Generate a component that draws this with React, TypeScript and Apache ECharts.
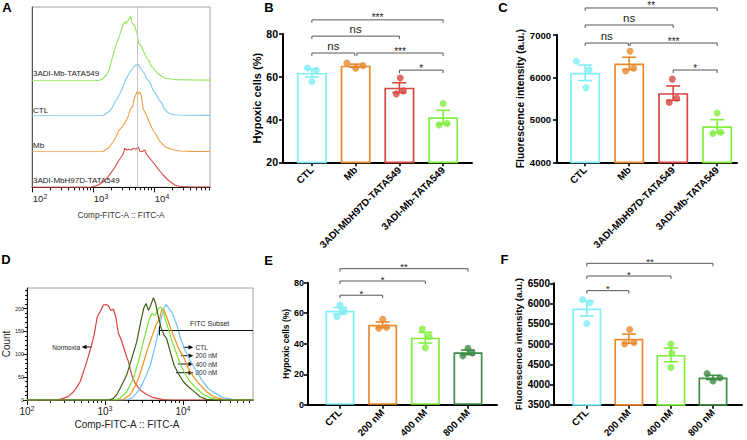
import React, { useEffect, useRef } from "react";
import * as echarts from "echarts";

const FONT = '"Liberation Sans", Arial, Helvetica, sans-serif';

// ---------------- Panel A: offset histograms (x = log10 Comp-FITC-A, y = relative height) -------------
const aGreenTATA: number[][] = [[2,0],[3.05,0],[3.11,0.5],[3.16,2],[3.22,5.7],[3.26,10],[3.3,19],[3.33,26],[3.36,32.4],[3.39,38],[3.43,44],[3.46,50],[3.49,55.7],[3.52,59],[3.54,56.7],[3.555,59],[3.58,60.7],[3.6,62],[3.62,64.7],[3.635,59],[3.65,57],[3.68,55.7],[3.72,47.4],[3.75,37.4],[3.78,35],[3.8,34],[3.83,29],[3.86,25],[3.91,20.7],[3.95,15],[3.99,12.4],[4.07,6.7],[4.18,2.4],[4.3,1.5],[4.39,1],[4.6,0.8],[4.92,0.6]];
const aBlueCTL: number[][] = [[2,0],[3.16,0],[3.22,2.4],[3.26,4],[3.31,7.4],[3.36,14],[3.39,16],[3.47,25.7],[3.52,34],[3.57,40],[3.61,44],[3.65,47.4],[3.69,50],[3.74,51.7],[3.77,48],[3.8,45.7],[3.85,41.7],[3.875,37],[3.93,34],[3.98,26],[4.04,20.7],[4.08,16],[4.13,12.4],[4.16,8],[4.21,4],[4.26,2],[4.34,1],[4.4,0.7],[4.6,0.4],[4.92,0.3]];
const aOrangeMb: number[][] = [[2,0],[3.15,0],[3.2,1.7],[3.26,4],[3.33,10],[3.38,15],[3.41,20],[3.48,25],[3.5,26.7],[3.55,31.7],[3.58,36],[3.61,41.7],[3.63,44.4],[3.655,45],[3.67,52],[3.7,56.7],[3.72,60],[3.75,58],[3.765,60],[3.79,56.7],[3.81,48.4],[3.825,42],[3.85,40],[3.875,36.7],[3.93,28.4],[3.98,22],[4.02,18.4],[4.1,10],[4.18,5],[4.26,3],[4.34,1.7],[4.42,0.7],[4.6,0.3],[4.92,0.2]];
const aRedH97D: number[][] = [[2,0],[2.95,0],[2.98,0.3],[3.08,2],[3.17,5.6],[3.24,10],[3.31,15.6],[3.36,20],[3.41,25.6],[3.46,30],[3.5,34],[3.52,39],[3.555,37.3],[3.58,38],[3.63,37.3],[3.66,39],[3.7,38],[3.74,40.6],[3.77,36],[3.8,35.6],[3.85,37.3],[3.875,33],[3.91,30.6],[3.955,27.3],[4.02,22.3],[4.06,19],[4.15,12.3],[4.23,7.3],[4.34,2.3],[4.41,1],[4.48,0.7],[4.6,0.3],[4.92,0.3]];
const aLabels = ["3ADI-Mb-TATA549", "CTL", "Mb", "3ADI-MbH97D-TATA549"];
const aMarkerLog = 3.733;
const fitcDecades = [2, 3, 4];

// ---------------- Panel D: overlaid histograms (x = log10 Comp-FITC-A, y = Count) -------------
const dNormoxia: number[][] = [[2,0],[2.295,0],[2.4,1],[2.466,3.6],[2.53,8],[2.594,18],[2.64,28],[2.68,40],[2.72,60],[2.765,84],[2.816,113],[2.859,142],[2.9,182],[2.936,193],[2.979,207.5],[3.013,209],[3.043,206],[3.073,196],[3.107,198.6],[3.137,182],[3.171,146],[3.214,129],[3.256,105],[3.299,84],[3.342,55],[3.385,37],[3.449,22],[3.534,12],[3.62,5],[3.748,1],[3.85,0],[4.9,0]];
const dCTL: number[][] = [[2,0],[3.28,0],[3.363,7],[3.45,25],[3.51,47],[3.58,76],[3.64,116],[3.684,149],[3.726,182],[3.756,200],[3.78,209],[3.81,202],[3.84,196],[3.876,185],[3.92,164],[3.97,134],[4.025,109],[4.09,87],[4.15,69],[4.24,44],[4.324,25],[4.41,15],[4.517,5],[4.645,1],[4.75,0],[4.9,0]];
const d200nM: number[][] = [[2,0],[3.22,0],[3.32,11],[3.406,37],[3.47,69],[3.534,105],[3.6,138],[3.654,164],[3.7,178],[3.726,198],[3.756,196],[3.79,182],[3.842,156],[3.9,131],[3.953,109],[4.004,95],[4.068,69],[4.132,51],[4.218,33],[4.303,18],[4.389,7],[4.517,1.5],[4.6,0],[4.9,0]];
const d400nM: number[][] = [[2,0],[3.13,0],[3.192,3.6],[3.278,18],[3.363,47],[3.427,84],[3.49,127],[3.556,171],[3.6,189],[3.64,185],[3.67,196],[3.705,203],[3.74,200],[3.77,178],[3.81,156],[3.855,131],[3.91,105],[3.96,80],[4.025,58],[4.09,40],[4.175,25],[4.26,12],[4.367,3.6],[4.47,0],[4.9,0]];
const d800nM: number[][] = [[2,0],[3.05,0],[3.107,3.6],[3.15,12],[3.192,25],[3.235,40],[3.278,55],[3.342,91],[3.406,127],[3.457,171],[3.5,203],[3.526,211],[3.556,196],[3.585,207],[3.62,224],[3.649,211],[3.684,182],[3.714,160],[3.756,142],[3.79,134],[3.842,102],[3.885,76],[3.94,58],[4.004,40],[4.068,29],[4.132,20],[4.218,7],[4.303,1.5],[4.4,0],[4.9,0]];
const dCountTicks = [0, 50, 100, 150, 200];
const dGateLog = 3.696;
const dGateCount = 151.6;

// ---------------- Panel B -------------
const bCats = ["CTL", "Mb", "3ADI-MbH97D-TATA549", "3ADI-Mb-TATA549"];
const bMeans = [61.8, 65.2, 54.9, 41.1];
const bSems = [1.9, 0.7, 2.3, 3.2];
const bPoints = [[64.1, 63.0, 57.8], [66.4, 64.0, 65.2], [59.4, 52.0, 53.4], [47.5, 37.5, 38.2]];
const bJitter = [[-0.1, 0.1, 0], [-0.2, 0, 0.17], [0.02, -0.07, 0.09], [0, -0.09, 0.09]];
const bSig = [[0, 3, 86.6], [0, 2, 79], [0, 0.98, 71.1], [1.03, 3, 71.1], [2, 3, 63.1]];
const bSigLabels = ["***", "ns", "ns", "***", "*"];

// ---------------- Panel C -------------
const cCats = ["CTL", "Mb", "3ADI-MbH97D-TATA549", "3ADI-Mb-TATA549"];
const cMeans = [6110, 6330, 5630, 4850];
const cSems = [183, 146, 169, 155];
const cPoints = [[6380, 6180, 5760], [6620, 6150, 6220], [5960, 5410, 5510], [5160, 4680, 4710]];
const cJitter = [[-0.2, 0.09, 0.02], [0.02, -0.08, 0.1], [-0.02, -0.09, 0.08], [0, -0.1, 0.08]];
const cSig = [[0, 3, 7637], [0, 2, 7236], [0, 0.98, 6811], [1.02, 3, 6811], [2, 3, 6175]];
const cSigLabels = ["**", "ns", "ns", "***", "*"];

// ---------------- Panel E -------------
const eCats = ["CTL", "200 nM", "400 nM", "800 nM"];
const eMeans = [61.6, 52.4, 44.0, 34.4];
const eSems = [2.2, 1.9, 3.5, 1.5];
const ePoints = [[65.4, 61.7, 57.8], [56.1, 50.2, 50.8], [49.7, 44.7, 37.5], [37.1, 32.1, 33.9]];
const eJitter = [[0, 0.09, -0.07], [0, -0.09, 0.09], [-0.07, 0.09, 0], [0, -0.12, 0.1]];
const eSig = [[0, 3, 89.2], [0, 2, 81.1], [0, 1, 71.8]];
const eSigLabels = ["**", "*", "*"];

// ---------------- Panel F -------------
const fCats = ["CTL", "200 nM", "400 nM", "800 nM"];
const fMeans = [5877, 5133, 4733, 4177];
const fSems = [185, 114, 169, 52];
const fPoints = [[6100, 6020, 5510], [5360, 5000, 5040], [5000, 4780, 4420], [4270, 4090, 4170]];
const fJitter = [[-0.1, 0.07, 0], [0.02, -0.1, 0.12], [0, 0.02, 0], [-0.14, 0, 0.17]];
const fSig = [[0, 3, 6993], [0, 2, 6680], [0, 1, 6318]];
const fSigLabels = ["**", "*", "*"];

const CYAN = "#80EEF6";
const ORANGE = "#E8892C";
const RED = "#D9473F";
const LIME = "#7FEE3C";
const DKGREEN = "#3E8C46";

function buildOption() {
  const grids: any[] = [];
  const xAxes: any[] = [];
  const yAxes: any[] = [];
  const series: any[] = [];
  const graphics: any[] = [];
  const addGrid = (g: any) => { grids.push(g); return grids.length - 1; };
  const addX = (a: any) => { xAxes.push(a); return xAxes.length - 1; };
  const addY = (a: any) => { yAxes.push(a); return yAxes.length - 1; };

  const powRich = (size: number) => ({
    b: { fontSize: size, fontFamily: FONT, color: "#222", lineHeight: size + 1, verticalAlign: "bottom" },
    s: { fontSize: size * 0.72, fontFamily: FONT, color: "#222", lineHeight: size * 0.72 + 1, verticalAlign: "top" },
  });
  const powFmt = (v: number) => {
    const e = Math.round(v);
    return Math.abs(v - e) < 1e-6 ? `{b|10}{s|${e}}` : "";
  };
  const minorLog = (max: number) => {
    const out: number[] = [];
    for (const d of fitcDecades) for (let k = 2; k <= 9; k++) { const v = d + Math.log10(k); if (v <= max) out.push(v); }
    return out;
  };
  const hidden = { show: false };

  // ---------- Panel A ----------
  const aMin = 2, aMax = 4.918;
  const aFrame = addGrid({ left: 32, top: 7, width: 178, height: 180.3, show: true, borderColor: "#a0a0a0", borderWidth: 1 });
  const axF = addX({ type: "value", gridIndex: aFrame, min: aMin, max: aMax, ...hidden });
  const ayF = addY({ type: "value", gridIndex: aFrame, min: 0, max: 1, position: "left",
    axisLine: { show: true, onZero: false, lineStyle: { color: "#555", width: 1 } }, axisTick: { show: false }, axisLabel: { show: false }, splitLine: { show: false } });
  series.push({ type: "line", xAxisIndex: axF, yAxisIndex: ayF, data: [], silent: true,
    markLine: { silent: true, symbol: ["none", "none"], label: { show: false }, lineStyle: { color: "#c4c4c4", width: 1, type: "solid" }, data: [{ xAxis: aMarkerLog }] } });

  const aSeries = [aGreenTATA, aBlueCTL, aOrangeMb, aRedH97D];
  const aColors = ["#8FE85A", "#7DC9F3", "#EFA046", "#D94A46"];
  const aBaselines = [80.7, 115.7, 151.7, 187.3];
  aSeries.forEach((s, i) => {
    const gi = addGrid({ left: 32, top: aBaselines[i] - 75, width: 178, height: 75 });
    const last = i === aSeries.length - 1;
    const xi = addX(last ? {
      type: "value", gridIndex: gi, min: aMin, max: aMax, position: "bottom",
      axisLine: { show: true, onZero: false, lineStyle: { color: "#111", width: 1 } },
      axisTick: { show: true, customValues: fitcDecades, length: 5, lineStyle: { color: "#111", width: 1 } },
      axisLabel: { show: true, customValues: fitcDecades, formatter: powFmt, rich: powRich(9.5), margin: 6, padding: [0, 0, 0, 16] },
      splitLine: { show: false },
    } : { type: "value", gridIndex: gi, min: aMin, max: aMax, ...hidden });
    if (last) {
      addX({ type: "value", gridIndex: gi, min: aMin, max: aMax, position: "bottom",
        axisLine: { show: false, onZero: false }, axisTick: { show: true, customValues: minorLog(aMax), length: 3, lineStyle: { color: "#111", width: 1 } },
        axisLabel: { show: false }, splitLine: { show: false } });
    }
    const yi = addY({ type: "value", gridIndex: gi, min: 0, max: 75, ...hidden });
    series.push({ type: "line", xAxisIndex: xi, yAxisIndex: yi, data: s, showSymbol: false, symbol: "none",
      lineStyle: { color: aColors[i], width: 1.1 }, silent: true, z: 3 });
  });
  const aLabelY = [73.5, 110, 145.5, 180];
  aLabels.forEach((t, i) => graphics.push({ type: "text", x: 33, y: aLabelY[i],
    style: { text: t, fontSize: 8, fontFamily: FONT, fill: "#222", align: "left", textAlign: "left", verticalAlign: "middle", textVerticalAlign: "middle" } }));
  graphics.push({ type: "text", x: 121, y: 214.5, style: { text: "Comp-FITC-A :: FITC-A", fontSize: 8.3, fontFamily: FONT, fill: "#333", align: "center", textAlign: "center", verticalAlign: "middle", textVerticalAlign: "middle" } });

  // ---------- Panel D ----------
  const dMin = 2, dMax = 4.897;
  const dG = addGrid({ left: 27, top: 288, width: 226, height: 112, show: true, borderColor: "#a0a0a0", borderWidth: 1 });
  const dx = addX({ type: "value", gridIndex: dG, min: dMin, max: dMax, position: "bottom",
    axisLine: { show: true, onZero: false, lineStyle: { color: "#111", width: 1 } },
    axisTick: { show: true, customValues: fitcDecades, length: 5, lineStyle: { color: "#111" } },
    axisLabel: { show: true, customValues: fitcDecades, formatter: powFmt, rich: powRich(10), margin: 5 },
    splitLine: { show: false } });
  addX({ type: "value", gridIndex: dG, min: dMin, max: dMax, position: "bottom",
    axisLine: { show: false, onZero: false }, axisTick: { show: true, customValues: minorLog(dMax), length: 3, lineStyle: { color: "#111" } },
    axisLabel: { show: false }, splitLine: { show: false } });
  const dy = addY({ type: "value", gridIndex: dG, min: 0, max: 245, position: "left",
    axisLine: { show: true, onZero: false, lineStyle: { color: "#111", width: 1 } },
    axisTick: { show: true, customValues: dCountTicks, length: 4, lineStyle: { color: "#111" } },
    axisLabel: { show: true, customValues: dCountTicks, fontSize: 5.5, fontFamily: FONT, color: "#222", margin: 3 },
    splitLine: { show: false }, name: "Count", nameLocation: "middle", nameGap: 13,
    nameTextStyle: { fontSize: 10, fontFamily: FONT, color: "#222" } });
  addY({ type: "value", gridIndex: dG, min: 0, max: 245, position: "left",
    axisLine: { show: false, onZero: false },
    axisTick: { show: true, customValues: [10,20,30,40,60,70,80,90,110,120,130,140,160,170,180,190,210,220,230,240], length: 2, lineStyle: { color: "#111" } },
    axisLabel: { show: false }, splitLine: { show: false } });
  const dSeries = [dNormoxia, dCTL, d200nM, d400nM, d800nM];
  const dColors = ["#D9443C", "#6FC3F5", "#F0901F", "#78E23A", "#3D5F14"];
  dSeries.forEach((s, i) => series.push({ type: "line", xAxisIndex: dx, yAxisIndex: dy, data: s, showSymbol: false, symbol: "none",
    lineStyle: { color: dColors[i], width: 1.2 }, silent: true, z: 3 + i,
    markLine: i === 0 ? { silent: true, symbol: ["none", "none"], label: { show: false }, lineStyle: { color: "#111", width: 1, type: "solid" },
      data: [[{ coord: [dGateLog, dGateCount] }, { coord: [dMax, dGateCount] }], [{ coord: [dGateLog, dGateCount - 10] }, { coord: [dGateLog, dGateCount + 10] }]] } : undefined }));
  graphics.push({ type: "text", x: 127, y: 424, style: { text: "Comp-FITC-A :: FITC-A", fontSize: 10, fontFamily: FONT, fill: "#222", align: "center", textAlign: "center", verticalAlign: "middle", textVerticalAlign: "middle" } });
  graphics.push({ type: "text", x: 190, y: 323.3, style: { text: "FITC Subset", fontSize: 7, fontFamily: FONT, fill: "#222", align: "left", textAlign: "left", verticalAlign: "middle", textVerticalAlign: "middle" } });
  const arrow = (x1: number, x2: number, y: number) => {
    const dir = x2 > x1 ? 1 : -1;
    graphics.push({ type: "line", shape: { x1, y1: y, x2: x2 - dir * 3, y2: y }, style: { stroke: "#111", lineWidth: 1 } });
    graphics.push({ type: "polygon", shape: { points: [[x2, y], [x2 - dir * 5, y - 2.2], [x2 - dir * 5, y + 2.2]] }, style: { fill: "#111" } });
  };
  const annot = (t: string, x: number, y: number, align: string) => graphics.push({ type: "text", x, y,
    style: { text: t, fontSize: 6.5, fontFamily: FONT, fill: "#222", align, textAlign: align, verticalAlign: "middle", textVerticalAlign: "middle" } });
  arrow(92, 81.5, 347); annot("Normoxia", 80, 347, "right");
  const dLegend = ["CTL", "200 nM", "400 nM", "800 nM"];
  const dLegY = [347.3, 355.7, 364, 372.7];
  const dLegX0 = [183, 181, 178, 176];
  dLegend.forEach((t, i) => { arrow(dLegX0[i], 193.5, dLegY[i]); annot(t, 195.5, dLegY[i], "left"); });

  // ---------- Bar panels ----------
  const addBarPanel = (c: any) => {
    const gi = addGrid({ left: c.left, top: c.top, width: c.width, height: c.height });
    const xi = addX({ type: "value", gridIndex: gi, min: c.xMin, max: c.xMax, position: "bottom",
      axisLine: { show: true, onZero: false, lineStyle: { color: "#000", width: 2 } },
      axisTick: { show: true, customValues: [0, 1, 2, 3], length: 4, lineStyle: { color: "#000", width: 1.6 } },
      axisLabel: { show: true, customValues: [0, 1, 2, 3], formatter: (v: number) => c.cats[Math.round(v)] ?? "", rotate: 45,
        fontSize: c.xSize, fontWeight: "bold", fontFamily: FONT, color: "#000", margin: 6 },
      splitLine: { show: false } });
    const yi = addY({ type: "value", gridIndex: gi, min: c.yMin, max: c.yMax, interval: c.yInterval, position: "left",
      axisLine: { show: true, onZero: false, lineStyle: { color: "#000", width: 2 } },
      axisTick: { show: true, length: 4, lineStyle: { color: "#000", width: 1.6 } },
      axisLabel: { fontSize: c.ySize, fontWeight: "bold", fontFamily: FONT, color: "#000", margin: c.yMargin, formatter: (v: number) => String(v) },
      splitLine: { show: false }, name: c.yName, nameLocation: "middle", nameGap: c.nameGap,
      nameTextStyle: { fontSize: c.nameSize, fontWeight: "bold", fontFamily: FONT, color: "#000" } });
    series.push({ type: "bar", xAxisIndex: xi, yAxisIndex: yi, barWidth: c.barWidth, silent: true, z: 2,
      data: c.means.map((m: number, i: number) => ({ value: [i, m], itemStyle: { color: "#ffffff", borderColor: c.colors[i], borderWidth: 1.7 } })) });
    series.push({ type: "custom", xAxisIndex: xi, yAxisIndex: yi, clip: false, silent: true, z: 3,
      data: c.means.map((m: number, i: number) => [i, m, c.sems[i]]),
      renderItem: (params: any, api: any) => {
        const x = api.value(0), m = api.value(1), s = api.value(2);
        const top = api.coord([x, m + s]); const bot = api.coord([x, m - s]);
        const st = { stroke: c.colors[params.dataIndex], lineWidth: 1.6, fill: "none" };
        const hw = 7;
        return { type: "group", children: [
          { type: "line", shape: { x1: top[0], y1: top[1], x2: bot[0], y2: bot[1] }, style: st },
          { type: "line", shape: { x1: top[0] - hw, y1: top[1], x2: top[0] + hw, y2: top[1] }, style: st },
          { type: "line", shape: { x1: bot[0] - hw, y1: bot[1], x2: bot[0] + hw, y2: bot[1] }, style: st },
        ] };
      } });
    const pts: any[] = [];
    c.points.forEach((arr: number[], i: number) => arr.forEach((v, k) => pts.push({ value: [i + c.jitter[i][k], v], itemStyle: { color: c.colors[i] } })));
    series.push({ type: "scatter", xAxisIndex: xi, yAxisIndex: yi, symbolSize: 7, silent: true, z: 4, data: pts });
    series.push({ type: "custom", xAxisIndex: xi, yAxisIndex: yi, clip: false, silent: true, z: 5,
      data: c.sig,
      renderItem: (params: any, api: any) => {
        const p1 = api.coord([api.value(0), api.value(2)]);
        const p2 = api.coord([api.value(1), api.value(2)]);
        const label = c.sigLabels[params.dataIndex];
        const ns = label === "ns";
        return { type: "group", children: [
          { type: "polyline", shape: { points: [[p1[0], p1[1] + 3], [p1[0], p1[1]], [p2[0], p2[1]], [p2[0], p2[1] + 3]] },
            style: { stroke: "#555", lineWidth: 1, fill: "none" } },
          { type: "text", style: { text: label, x: (p1[0] + p2[0]) / 2, y: ns ? p1[1] - 1 : p1[1] + 3,
            align: "center", textAlign: "center", verticalAlign: "bottom", textVerticalAlign: "bottom",
            fontSize: ns ? c.nsSize : c.starSize, fontFamily: FONT, fill: "#222" } },
        ] };
      } });
  };

  addBarPanel({ left: 283, top: 34, width: 189, height: 128.3, xMin: -0.66, xMax: 3.66, yMin: 20, yMax: 80, yInterval: 20,
    cats: bCats, means: bMeans, sems: bSems, points: bPoints, jitter: bJitter, sig: bSig, sigLabels: bSigLabels,
    colors: [CYAN, ORANGE, RED, LIME], yName: "Hypoxic cells (%)", nameGap: 20, nameSize: 11, ySize: 10.5, yMargin: 5,
    xSize: 10, barWidth: 30, starSize: 10, nsSize: 11.5 });
  addBarPanel({ left: 557, top: 35, width: 180, height: 127.3, xMin: -0.64, xMax: 3.45, yMin: 4000, yMax: 7000, yInterval: 1000,
    cats: cCats, means: cMeans, sems: cSems, points: cPoints, jitter: cJitter, sig: cSig, sigLabels: cSigLabels,
    colors: [CYAN, ORANGE, RED, LIME], yName: "Fluorescence intensity (a.u.)", nameGap: 32, nameSize: 10.3, ySize: 9.5, yMargin: 6,
    xSize: 10, barWidth: 30, starSize: 10, nsSize: 11.5 });
  addBarPanel({ left: 308, top: 282.7, width: 189, height: 122.3, xMin: -0.75, xMax: 3.68, yMin: 0, yMax: 80, yInterval: 20,
    cats: eCats, means: eMeans, sems: eSems, points: ePoints, jitter: eJitter, sig: eSig, sigLabels: eSigLabels,
    colors: [CYAN, ORANGE, LIME, DKGREEN], yName: "Hypoxic cells (%)", nameGap: 16, nameSize: 8.5, ySize: 9, yMargin: 4,
    xSize: 9.8, barWidth: 29, starSize: 9.5, nsSize: 11 });
  addBarPanel({ left: 554, top: 283.3, width: 188, height: 121.7, xMin: -0.78, xMax: 3.69, yMin: 3500, yMax: 6500, yInterval: 500,
    cats: fCats, means: fMeans, sems: fSems, points: fPoints, jitter: fJitter, sig: fSig, sigLabels: fSigLabels,
    colors: [CYAN, ORANGE, LIME, DKGREEN], yName: "Fluorescence intensity (a.u.)", nameGap: 26, nameSize: 9.8, ySize: 10, yMargin: 4,
    xSize: 9.8, barWidth: 29, starSize: 9.5, nsSize: 11 });

  // ---------- Panel letters ----------
  ([["A", 7, 7], ["B", 269, 7], ["C", 503, 7.5], ["D", 6, 259], ["E", 268.5, 260], ["F", 504.5, 259]] as [string, number, number][])
    .forEach(([t, x, y]) => graphics.push({ type: "text", x, y, style: { text: t, fontSize: 13, fontWeight: "bold", fontFamily: FONT, fill: "#000",
      align: "center", textAlign: "center", verticalAlign: "middle", textVerticalAlign: "middle" } }));

  return {
    animation: false,
    backgroundColor: "#ffffff",
    grid: grids,
    xAxis: xAxes,
    yAxis: yAxes,
    series,
    graphic: { elements: graphics },
  };
}

export default function App() {
  const ref = useRef<HTMLDivElement>(null);
  useEffect(() => {
    if (!ref.current) return;
    const chart = echarts.init(ref.current, undefined, { renderer: "svg" });
    chart.setOption(buildOption() as any);
    return () => chart.dispose();
  }, []);
  return <div ref={ref} style={{ position: "fixed", left: 0, top: 0, width: 747, height: 440, background: "#fff" }} />;
}
